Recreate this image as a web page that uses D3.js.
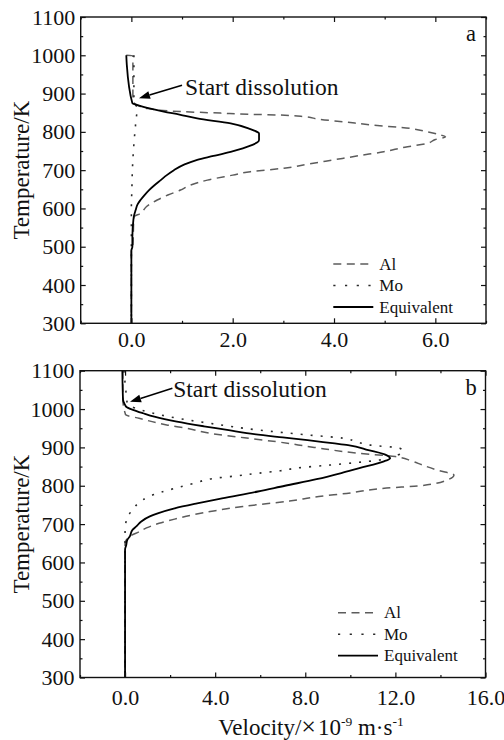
<!DOCTYPE html>
<html>
<head>
<meta charset="utf-8">
<script src="https://cdn.jsdelivr.net/npm/d3@7"></script>
<style>
  html, body { margin: 0; padding: 0; background: #fff; }
  svg { display: block; }
  svg text { font-family: "Liberation Serif", "Times New Roman", Times, "DejaVu Serif", serif !important; fill: #111; }
</style>
</head>
<body>
<svg id="chart" width="504" height="740"></svg>
<script>
// ---- Data: [temperature (K), velocity (1e-9 m/s)] ----
// Panel a
const alA = [[1000,-0.1],[999,0.03],[880,0.03],[870,0.12],[861,0.32],[853,0.97],[849,1.76],[846,2.3],[844,2.9],
  [840,3.4],[833,3.7],[826,4.2],[818,4.75],[809,5.5],[800,5.85],[792,6.1],[787,6.2],[780,6.0],[770,5.84],
  [760,5.4],[748,4.98],[738,4.5],[727,4.0],[716,3.5],[705,3.01],[696,2.35],[687,2.0],[674,1.5],[660,1.15],
  [648,0.97],[635,0.72],[622,0.51],[605,0.3],[587,0.18],[578,0.05],[500,0.03],[490,0.0],[300,0.0]];
const moA = [[1000,0.05],[880,0.05],[860,0.12],[840,0.1],[800,0.07],[750,0.04],[700,0.02],[650,0.01],[600,0.0],[300,0.0]];
const eqA = [[1000,-0.1],[975,-0.09],[875,0.02],[870,0.12],[860,0.4],[853,0.64],[845,0.95],[835,1.3],[822,1.96],
  [807,2.35],[800,2.48],[796,2.52],[779,2.52],[772,2.48],[766,2.39],[757,2.2],[748,1.96],[737,1.62],[727,1.3],
  [715,1.05],[700,0.84],[687,0.7],[674,0.58],[660,0.45],[648,0.35],[635,0.26],[622,0.18],[610,0.12],[596,0.085],
  [580,0.05],[570,0.04],[526,0.02],[500,0.02],[490,0.0],[300,0.0]];
// Panel b
const alB = [[1100,-0.1],[1030,-0.1],[1000,-0.05],[990,0.0],[985,0.03],[976,0.62],[958,1.9],[950,2.7],[937,3.74],
  [925,5.3],[915,6.7],[900,8.4],[885,10.3],[876,12.0],[865,12.7],[854,13.2],[840,13.9],[828,14.6],[815,14.3],
  [800,13.1],[794,11.6],[780,9.83],[772,8.6],[760,7.3],[746,5.23],[735,4.0],[724,3.0],[713,2.2],[702,1.51],
  [690,0.95],[680,0.62],[667,0.18],[650,0.0],[300,0.0]];
const moB = [[1100,-0.05],[1040,0.05],[1015,0.1],[1002,0.48],[990,1.2],[980,1.96],[963,3.74],[945,5.97],[932,8.2],
  [924,9.68],[914,10.3],[906,10.9],[898,12.2],[890,12.35],[885,12.3],[878,12.0],[872,11.8],[867,11.3],[860,10.2],
  [854,9.1],[846,7.6],[839,6.9],[833,5.97],[826,5.0],[820,4.04],[807,3.1],[794,2.26],[783,1.6],[772,1.07],
  [755,0.6],[737,0.33],[720,0.12],[702,0.03],[685,0.0],[300,0.0]];
const eqB = [[1100,-0.12],[1024,-0.09],[1011,0.0],[1006,0.05],[998,0.35],[989,0.8],[980,1.3],[967,2.3],[955,3.5],
  [945,4.6],[937,5.4],[926,7.0],[919,8.1],[911,9.2],[906,9.9],[893,10.8],[880,11.6],[872,11.76],[863,11.46],
  [846,10.4],[833,9.6],[817,8.5],[800,7.1],[785,5.9],[767,4.3],[754,3.2],[741,2.2],[728,1.45],[720,1.1],
  [707,0.72],[694,0.5],[685,0.33],[667,0.2],[659,0.1],[645,0.05],[633,0.0],[300,0.0]];

const tempTicks = [300,400,500,600,700,800,900,1000,1100];
const tempMinor = [350,450,550,650,750,850,950,1050];
const velTicksA = [0,2,4,6];
const velMinorA = [-1,1,3,5,7];
const velTicksB = [0,4,8,12,16];
const velMinorB = [-2,2,6,10,14];
const seriesNames = ["Al", "Mo", "Equivalent"];

// ---- Styles per series ----
const styles = {
  "Al": { stroke: "#5c5c5c", width: 1.5, dash: "8,5.5" },
  "Mo": { stroke: "#2a2a2a", width: 1.6, dash: "2,8" },
  "Equivalent": { stroke: "#000", width: 1.8, dash: null }
};
const SERIF = '"Liberation Serif", "Times New Roman", Times, "DejaVu Serif", serif';

const svg = d3.select("#chart");

function drawPanel(cfg) {
  const { left, right, top, bottom, xDomain, xTicks, xMinor, series, label, tickPad,
          arrowFrom, arrowTo, startText, legendX, legendY } = cfg;
  const x = d3.scaleLinear().domain(xDomain).range([left, right]);
  const y = d3.scaleLinear().domain([300, 1100]).range([bottom, top]);
  const g = svg.append("g").attr("font-family", SERIF);

  const clipId = "clip-" + label;
  svg.append("clipPath").attr("id", clipId)
    .append("rect").attr("x", left).attr("y", top).attr("width", right - left).attr("height", bottom - top);

  // curves
  const line = d3.line().x(d => x(d[1])).y(d => y(d[0])).curve(d3.curveMonotoneY);
  series.forEach((s, i) => {
    const st = styles[seriesNames[i]];
    g.append("path").datum(s)
      .attr("clip-path", `url(#${clipId})`)
      .attr("d", line)
      .attr("fill", "none")
      .attr("stroke", st.stroke)
      .attr("stroke-width", st.width)
      .attr("stroke-dasharray", st.dash)
      .attr("stroke-linejoin", "round");
  });

  // axes with inward ticks
  const fmt = d3.format(".1f");
  const axB = g.append("g").attr("transform", `translate(0,${bottom})`)
    .call(d3.axisBottom(x).tickValues(xTicks).tickFormat(fmt).tickSize(-5).tickPadding(tickPad));
  axB.append("g").call(d3.axisBottom(x).tickValues(xMinor).tickFormat("").tickSize(-2.5));
  const axT = g.append("g").attr("transform", `translate(0,${top})`)
    .call(d3.axisTop(x).tickValues(xTicks).tickFormat("").tickSize(-5));
  axT.append("g").call(d3.axisTop(x).tickValues(xMinor).tickFormat("").tickSize(-2.5));
  const axL = g.append("g").attr("transform", `translate(${left},0)`)
    .call(d3.axisLeft(y).tickValues(tempTicks).tickFormat(d3.format("d")).tickSize(-5).tickPadding(5.5));
  axL.append("g").call(d3.axisLeft(y).tickValues(tempMinor).tickFormat("").tickSize(-2.5));
  const axR = g.append("g").attr("transform", `translate(${right},0)`)
    .call(d3.axisRight(y).tickValues(tempTicks).tickFormat("").tickSize(-5));
  axR.append("g").call(d3.axisRight(y).tickValues(tempMinor).tickFormat("").tickSize(-2.5));

  g.selectAll(".domain").remove();
  g.selectAll("g").attr("font-family", SERIF);
  g.selectAll(".tick line").attr("stroke", "#111").attr("stroke-width", 1.2);
  g.selectAll(".tick text").attr("font-size", 22).attr("fill", "#111").attr("font-family", SERIF);

  // frame
  g.append("rect").attr("x", left).attr("y", top).attr("width", right - left).attr("height", bottom - top)
    .attr("fill", "none").attr("stroke", "#111").attr("stroke-width", 1.4);

  // y title
  g.append("text")
    .attr("transform", `translate(${21},${(top + bottom) / 2}) rotate(-90)`)
    .attr("text-anchor", "middle").attr("dy", "0.35em")
    .attr("font-size", 23).text("Temperature/K");

  // panel letter
  g.append("text").attr("x", right - 20).attr("y", top + 24).attr("font-size", 22.5).text(label);

  // annotation arrow
  const x1 = x(arrowFrom[1]), y1 = y(arrowFrom[0]), x2 = x(arrowTo[1]), y2 = y(arrowTo[0]);
  const ang = Math.atan2(y2 - y1, x2 - x1);
  const hl = 11, hw = 4;
  const bx = x2 - hl * Math.cos(ang), by = y2 - hl * Math.sin(ang);
  g.append("line").attr("x1", x1).attr("y1", y1).attr("x2", bx).attr("y2", by)
    .attr("stroke", "#000").attr("stroke-width", 1.6);
  g.append("path")
    .attr("d", `M${x2},${y2} L${bx + hw * Math.sin(ang)},${by - hw * Math.cos(ang)} L${bx - hw * Math.sin(ang)},${by + hw * Math.cos(ang)} Z`)
    .attr("fill", "#000");
  g.append("text").attr("x", x(startText[1])).attr("y", y(startText[0]))
    .attr("font-size", 23.5).text("Start dissolution");

  // legend
  const lg = g.append("g").attr("transform", `translate(${legendX},${legendY})`);
  seriesNames.forEach((name, i) => {
    const st = styles[name];
    const yy = i * 21.5;
    lg.append("line").attr("x1", 0).attr("x2", 40).attr("y1", yy).attr("y2", yy)
      .attr("stroke", st.stroke).attr("stroke-width", st.width)
      .attr("stroke-dasharray", name === "Mo" ? "2.2,9.5" : st.dash);
    lg.append("text").attr("x", 46).attr("y", yy + 5.5).attr("font-size", 17).text(name);
  });
}

drawPanel({
  left: 80.7, right: 486, top: 17, bottom: 323.3,
  xDomain: [-1, 7], xTicks: velTicksA, xMinor: velMinorA,
  series: [alA, moA, eqA], label: "a", tickPad: 8,
  arrowFrom: [922, 1.0], arrowTo: [888, 0.15], startText: [896, 1.06],
  legendX: 333.3, legendY: 264
});

drawPanel({
  left: 80, right: 485.5, top: 370.7, bottom: 677.5,
  xDomain: [-2, 16], xTicks: velTicksB, xMinor: velMinorB,
  series: [alB, moB, eqB], label: "b", tickPad: 12,
  arrowFrom: [1054, 2.1], arrowTo: [1019, 0.22], startText: [1032, 2.14],
  legendX: 338, legendY: 612.7
});

// shared x title
const xt = svg.append("text").attr("x", 311).attr("y", 735).attr("text-anchor", "middle")
  .attr("font-size", 23).attr("font-family", SERIF);
xt.append("tspan").text("Velocity/");
xt.append("tspan").attr("font-size", 26).text("×");
xt.append("tspan").attr("dx", 2).text("10");
xt.append("tspan").attr("dy", -9).attr("font-size", 13.5).text("-9");
xt.append("tspan").attr("dy", 9).text(" m·s");
xt.append("tspan").attr("dy", -9).attr("font-size", 13.5).text("-1");
</script>
</body>
</html>
